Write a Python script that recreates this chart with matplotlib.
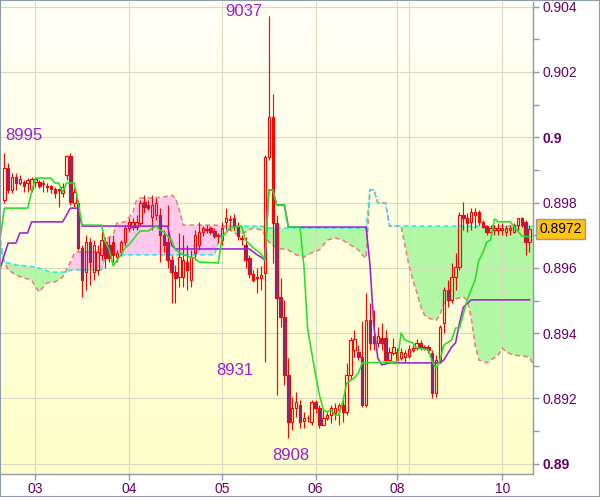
import numpy as np
import matplotlib
matplotlib.use("Agg")
import matplotlib.pyplot as plt
from matplotlib.patches import Rectangle
from matplotlib.colors import LinearSegmentedColormap
import matplotlib.transforms as mtransforms

plt.rcParams['font.family'] = ['Liberation Sans', 'DejaVu Sans']

# ---------------- data (prices in pips, i.e. price * 10000) ----------------
open_p = [8980.8, 8990.6, 8983.9, 8987.8, 8986.0, 8986.3, 8986.0, 8984.2, 8986.3, 8986.3,
          8985.7, 8985.1, 8985.1, 8984.2, 8983.9, 8982.9, 8988.5, 8994.3, 8979.9, 8979.9,
          8966.1, 8958.7, 8967.9, 8958.7, 8959.4, 8964.0, 8967.9, 8967.0, 8967.9, 8963.3,
          8964.9, 8967.9, 8972.2, 8972.5, 8972.5, 8973.8, 8980.2, 8979.3, 8975.6, 8976.2,
          8976.2, 8970.1, 8967.9, 8962.4, 8958.7, 8957.2, 8957.2, 8961.8, 8956.3, 8964.6,
          8967.0, 8971.0, 8971.9, 8972.2, 8971.3, 8969.8, 8968.5, 8974.1, 8975.0, 8975.3,
          8972.8, 8969.2, 8967.0, 8963.0, 8958.1, 8957.2, 8956.9, 8958.4, 8994.0, 9006.2,
          8973.8, 8951.1, 8945.0, 8927.2, 8912.8, 8917.1, 8918.0, 8913.1, 8913.9, 8912.8,
          8918.9, 8917.1, 8911.9, 8914.0, 8914.9, 8915.6, 8916.5, 8918.0, 8915.9, 8927.2,
          8934.9, 8934.2, 8932.7, 8918.0, 8944.0, 8939.1, 8937.0, 8938.5, 8938.5, 8931.8,
          8933.9, 8934.2, 8932.4, 8932.7, 8933.0, 8934.9, 8935.5, 8937.0, 8935.8, 8935.8,
          8933.9, 8921.7, 8931.8, 8943.1, 8953.2, 8950.2, 8957.2, 8960.3, 8976.2, 8975.3,
          8974.1, 8976.2, 8977.1, 8974.1, 8972.8, 8971.0, 8971.6, 8971.6, 8971.6, 8971.0,
          8971.6, 8971.0, 8973.1, 8975.3, 8974.1, 8967.9]
high_p = [8995.2, 8992.1, 8989.1, 8989.1, 8988.5, 8986.9, 8987.5, 8987.8, 8987.8, 8986.9,
          8986.9, 8986.0, 8985.4, 8984.8, 8984.5, 8986.0, 8994.6, 8995.2, 8984.5, 8980.8,
          8967.0, 8970.1, 8969.2, 8968.5, 8967.0, 8971.0, 8969.5, 8969.5, 8970.1, 8965.5,
          8968.5, 8973.1, 8975.3, 8975.3, 8976.2, 8980.8, 8982.3, 8980.8, 8982.3, 8981.4,
          8978.3, 8971.6, 8979.3, 8964.0, 8960.9, 8970.7, 8970.1, 8967.0, 8965.5, 8971.6,
          8974.1, 8972.8, 8973.1, 8972.8, 8972.2, 8970.7, 8974.1, 8978.3, 8976.2, 8976.5,
          8974.1, 8970.1, 8969.5, 8964.0, 8959.4, 8960.0, 8960.6, 8994.6, 9037.0, 9013.3,
          8976.2, 8956.9, 8950.2, 8932.4, 8920.5, 8922.0, 8919.5, 8915.9, 8914.9, 8919.5,
          8919.5, 8918.0, 8916.5, 8915.9, 8918.0, 8918.6, 8918.6, 8920.5, 8930.9, 8938.8,
          8941.0, 8936.4, 8943.7, 8952.3, 8949.3, 8947.1, 8941.9, 8943.1, 8941.0, 8935.8,
          8938.5, 8935.5, 8935.5, 8934.9, 8936.4, 8936.4, 8938.2, 8937.9, 8936.4, 8936.4,
          8934.9, 8933.3, 8942.5, 8954.2, 8956.3, 8961.5, 8964.6, 8977.1, 8980.2, 8976.8,
          8978.3, 8978.3, 8977.7, 8974.7, 8973.1, 8973.1, 8973.1, 8973.8, 8973.8, 8973.1,
          8973.1, 8973.8, 8975.3, 8975.6, 8974.7, 8973.1]
low_p = [8979.9, 8982.9, 8982.9, 8983.9, 8985.4, 8983.2, 8983.2, 8983.2, 8984.8, 8984.5,
         8983.2, 8983.2, 8982.9, 8981.4, 8978.7, 8981.7, 8986.9, 8979.3, 8978.7, 8965.5,
         8951.1, 8953.2, 8954.8, 8956.3, 8957.8, 8962.4, 8960.0, 8961.8, 8961.8, 8961.8,
         8963.6, 8966.7, 8971.0, 8971.6, 8971.6, 8972.8, 8976.8, 8977.7, 8971.6, 8974.7,
         8961.8, 8964.9, 8960.0, 8949.3, 8949.3, 8954.2, 8954.2, 8953.2, 8954.2, 8962.4,
         8965.5, 8969.8, 8970.7, 8970.4, 8969.2, 8967.6, 8967.0, 8971.6, 8971.6, 8971.6,
         8968.5, 8967.0, 8960.0, 8956.9, 8955.7, 8952.3, 8953.2, 8931.2, 8993.0, 8961.5,
         8921.1, 8941.9, 8924.1, 8907.9, 8910.4, 8914.3, 8911.0, 8911.0, 8912.8, 8911.9,
         8915.6, 8911.0, 8911.9, 8913.4, 8912.5, 8913.4, 8911.9, 8912.8, 8914.9, 8925.7,
         8932.7, 8931.8, 8917.4, 8917.4, 8934.9, 8934.9, 8935.8, 8934.9, 8931.2, 8931.8,
         8933.3, 8931.2, 8931.8, 8931.2, 8932.4, 8934.2, 8934.9, 8934.9, 8934.9, 8933.9,
         8920.2, 8920.5, 8930.9, 8940.1, 8948.0, 8949.3, 8953.2, 8959.4, 8971.6, 8971.0,
         8971.6, 8972.2, 8973.1, 8972.2, 8970.1, 8970.1, 8970.1, 8970.1, 8970.1, 8969.8,
         8970.1, 8970.7, 8971.0, 8972.5, 8964.0, 8964.9]
close_p = [8990.6, 8983.9, 8987.8, 8986.0, 8987.2, 8985.1, 8986.9, 8987.2, 8987.2, 8985.1,
           8986.0, 8984.8, 8984.2, 8982.9, 8984.2, 8984.8, 8994.3, 8980.2, 8983.2, 8966.1,
           8956.3, 8967.9, 8961.8, 8967.0, 8964.9, 8968.5, 8963.0, 8963.0, 8964.0, 8964.6,
           8967.9, 8972.2, 8974.1, 8974.1, 8974.1, 8979.9, 8978.7, 8978.3, 8979.3, 8979.9,
           8970.1, 8967.0, 8962.4, 8958.7, 8956.9, 8963.3, 8962.4, 8959.4, 8963.3, 8970.1,
           8971.0, 8972.2, 8971.6, 8971.0, 8969.8, 8970.1, 8972.2, 8975.3, 8974.7, 8972.8,
           8969.8, 8968.9, 8962.4, 8958.1, 8956.3, 8956.9, 8957.8, 8994.0, 9006.2, 8973.8,
           8950.8, 8945.0, 8927.2, 8912.8, 8917.1, 8918.9, 8912.8, 8914.0, 8914.0, 8918.9,
           8917.1, 8911.9, 8914.0, 8914.9, 8917.1, 8917.1, 8918.0, 8915.9, 8927.2, 8937.9,
           8938.2, 8932.7, 8918.0, 8944.0, 8937.0, 8937.0, 8939.1, 8937.0, 8931.8, 8934.2,
           8935.8, 8931.8, 8934.2, 8933.9, 8935.2, 8935.5, 8937.0, 8935.8, 8935.5, 8934.9,
           8921.7, 8931.8, 8941.9, 8953.2, 8950.2, 8957.2, 8960.3, 8976.2, 8975.3, 8973.8,
           8977.1, 8977.1, 8974.1, 8972.5, 8971.0, 8972.2, 8972.2, 8972.2, 8972.2, 8972.2,
           8972.2, 8973.1, 8975.3, 8973.1, 8967.9, 8972.0]

# Tenkan (green)
tenkan_idx = [-1, 0, 6, 7, 8, 12, 13, 14, 15, 16, 18, 19, 20, 25, 26, 27, 28, 29, 30, 31,
              32, 33, 34, 35, 37, 39, 40, 41, 43, 44, 46, 49, 50, 55, 56, 58, 61, 62, 64, 66,
              67, 68, 69, 70, 72, 73, 76, 77, 78, 79, 80, 81, 82, 83, 84, 85, 86, 87, 88, 90,
              91, 92, 101, 102, 103, 105, 106, 109, 110, 111, 112, 113, 115, 116, 117, 119,
              121, 122, 123, 124, 125, 126, 127, 130, 131, 133, 135]
tenkan_val = [8969.5, 8978.3, 8978.3, 8983.2, 8987.5, 8987.5, 8986.0, 8986.0, 8983.2, 8986.0,
              8986.0, 8979.9, 8973.1, 8973.1, 8967.9, 8965.5, 8960.6, 8962.4, 8964.0, 8966.1,
              8967.0, 8968.5, 8970.1, 8971.3, 8971.3, 8972.8, 8971.6, 8971.0, 8968.5, 8965.5,
              8964.0, 8963.0, 8961.8, 8961.5, 8969.5, 8972.2, 8972.8, 8968.5, 8966.1, 8964.3,
              8962.4, 8983.9, 8983.9, 8979.3, 8979.3, 8972.5, 8972.5, 8960.9, 8941.0, 8934.2,
              8927.2, 8921.1, 8916.5, 8915.9, 8916.5, 8914.9, 8914.9, 8918.9, 8924.7, 8926.3,
              8927.8, 8930.9, 8931.2, 8940.1, 8937.9, 8937.0, 8935.5, 8934.9, 8931.2, 8929.3,
              8931.8, 8936.4, 8937.9, 8941.6, 8941.6, 8950.2, 8956.3, 8962.4, 8964.6, 8967.9,
              8968.5, 8975.0, 8974.1, 8974.1, 8972.8, 8969.8, 8969.5]

# Kijun (purple)
kijun_idx = [-1, 0, 1, 3, 4, 6, 7, 15, 17, 19, 20, 42, 43, 44, 63, 65, 66, 67, 68, 69,
             70, 72, 73, 93, 94, 95, 96, 97, 99, 112, 113, 115, 116, 117, 118, 120, 135]
kijun_val = [8960.0, 8964.0, 8967.6, 8967.6, 8970.7, 8970.7, 8974.1, 8974.1, 8978.3, 8978.3,
             8972.8, 8972.8, 8967.0, 8965.8, 8965.8, 8964.0, 8963.3, 8962.4, 8983.9, 8983.9,
             8979.3, 8979.3, 8972.5, 8972.5, 8960.9, 8942.2, 8932.4, 8930.3, 8930.9, 8930.9,
             8931.8, 8935.8, 8937.0, 8943.1, 8948.0, 8950.2, 8950.2]

# Senkou span B (cyan, dashed)
span_b_idx = [-1, 0, 3, 8, 12, 16, 17, 25, 26, 54, 55, 56, 57, 66, 68, 93, 94, 95, 96, 98,
              99, 136]
span_b_val = [8968.5, 8961.8, 8960.9, 8960.3, 8958.7, 8958.7, 8959.4, 8959.4, 8964.0, 8964.0,
              8967.6, 8971.6, 8972.8, 8972.8, 8972.2, 8972.2, 8983.9, 8983.9, 8979.9, 8979.9,
              8972.8, 8972.8]

# Senkou span A (salmon, dashed)
span_a_idx = [-1, 0, 1, 3, 5, 7, 8, 9, 10, 11, 13, 14, 15, 16, 17, 18, 19, 25, 26, 27,
              28, 29, 31, 33, 34, 35, 38, 41, 43, 44, 45, 46, 54, 57, 58, 60, 62, 64, 66, 67,
              68, 70, 73, 75, 77, 79, 81, 83, 85, 87, 89, 91, 92, 93, 94, 95, 96, 98, 99, 102,
              103, 104, 105, 106, 107, 108, 109, 111, 112, 113, 115, 118, 119, 120, 121, 122,
              124, 127, 128, 129, 131, 135, 136]
span_a_val = [8965.5, 8961.8, 8959.4, 8957.8, 8956.9, 8956.3, 8954.2, 8952.6, 8954.2, 8955.4,
              8955.7, 8956.3, 8957.2, 8959.4, 8961.8, 8964.6, 8964.9, 8964.9, 8968.5, 8969.5,
              8970.1, 8973.8, 8974.1, 8976.8, 8980.8, 8981.4, 8981.4, 8981.7, 8982.3, 8981.4,
              8977.7, 8973.1, 8973.1, 8972.8, 8971.6, 8970.1, 8971.0, 8972.2, 8971.6, 8970.1,
              8967.9, 8966.1, 8965.5, 8964.0, 8963.3, 8964.6, 8965.5, 8968.5, 8969.2, 8968.5,
              8967.0, 8965.5, 8964.0, 8963.0, 8983.9, 8983.9, 8979.9, 8979.9, 8972.8, 8972.8,
              8966.7, 8960.9, 8956.3, 8952.6, 8948.3, 8945.6, 8944.6, 8944.0, 8945.6, 8949.3,
              8950.2, 8951.1, 8950.2, 8944.9, 8936.4, 8931.8, 8930.9, 8933.3, 8935.5, 8934.2,
              8933.3, 8932.7, 8930.3]

day_ticks = [8, 32, 56, 80, 101, 128]
day_labels = ['03', '04', '05', '06', '08', '10']
day_grid = [8, 32, 56, 80, 101, 104, 128]

# extremes annotated on the chart: (candle index, 'high'/'low')
marks = [(0, 'high'), (68, 'high'), (67, 'low'), (73, 'low')]

PIP = 1e4
o = np.array(open_p) / PIP
h = np.array(high_p) / PIP
l = np.array(low_p) / PIP
c = np.array(close_p) / PIP
n = len(o)

# ---------------- figure ----------------
fig = plt.figure(figsize=(6.0, 4.97), dpi=100)
fig.patch.set_facecolor('white')
ax = fig.add_axes([1 / 600, 23 / 497, 532 / 600, 472.5 / 497])

# background gradient
grad = np.linspace(0, 1, 256).reshape(-1, 1)
bg = LinearSegmentedColormap.from_list('bg', ['#ffffc9', '#fffff7'])
ax.imshow(grad, extent=[0, 1, 0, 1], transform=ax.transAxes, origin='lower',
          aspect='auto', cmap=bg, zorder=0, interpolation='bilinear')

xlim = (-0.85, 135.9)
ylim = (0.889687, 0.904159)

# cloud
gx = np.linspace(-1, 136, 3000)
ga = np.interp(gx, span_a_idx, span_a_val) / PIP
gb = np.interp(gx, span_b_idx, span_b_val) / PIP
ax.fill_between(gx, ga, gb, where=gb >= ga, interpolate=True, color='#b2f7a4', lw=0, zorder=1)
ax.fill_between(gx, ga, gb, where=ga > gb, interpolate=True, color='#ffc9eb', lw=0, zorder=1)

# grid
major = np.arange(0.890, 0.90401, 0.002)
grid_col = '#d9d9bf'
for v in major:
    ax.axhline(v, color=grid_col, lw=0.8, zorder=1.5)
for d in day_grid:
    ax.axvline(d, color=grid_col, lw=0.8, zorder=1.5)

# senkou spans
ax.plot(span_a_idx, np.array(span_a_val) / PIP, color='#f07c7c', lw=1.15,
        ls=(0, (3, 2)), zorder=2)
ax.plot(span_b_idx, np.array(span_b_val) / PIP, color='#35e2f2', lw=1.15,
        ls=(0, (3, 2)), zorder=2.1)

# candles
w = 0.62
red = '#ff0000'
for i in range(n):
    top = max(o[i], c[i])
    bot = min(o[i], c[i])
    ax.vlines(i, top, h[i], color=red, lw=0.85, zorder=3)
    ax.vlines(i, l[i], bot, color=red, lw=0.85, zorder=3)
    face = 'none' if c[i] >= o[i] else '#62389e'
    ax.add_patch(Rectangle((i - w / 2, bot), w, max(top - bot, 0.000004),
                           facecolor=face, edgecolor=red, lw=0.85, zorder=3.2))

# tenkan / kijun
ax.plot(kijun_idx, np.array(kijun_val) / PIP, color='#9a22d2', lw=1.15, zorder=4)
ax.plot(tenkan_idx, np.array(tenkan_val) / PIP, color='#25e025', lw=1.15, zorder=4.1)

# annotations of extremes
ann_col = '#9a1ed6'
for idx_m, kind in marks:
    if kind == 'high':
        val = high_p[idx_m]
        if idx_m == int(np.argmax(high_p)):
            ax.text(idx_m - 1.7, (val + 1.5) / PIP, f"{val:.0f}", color=ann_col,
                    fontsize=12, ha='right', va='center', zorder=6)
        else:
            ax.text(idx_m + 0.25, (val + 5.5) / PIP, f"{val:.0f}", color=ann_col,
                    fontsize=12, ha='left', va='center', zorder=6)
    else:
        val = low_p[idx_m]
        if idx_m == int(np.argmin(low_p)):
            ax.text(idx_m + 0.6, (val - 5.5) / PIP, f"{val:.0f}", color=ann_col,
                    fontsize=12, ha='center', va='center', zorder=6)
        else:
            ax.text(idx_m - 3.0, (val - 2.6) / PIP, f"{val:.0f}", color=ann_col,
                    fontsize=12, ha='right', va='center', zorder=6)

ax.set_xlim(*xlim)
ax.set_ylim(*ylim)

# axes styling
axis_col = '#8d9ca8'
for s in ['top', 'left']:
    ax.spines[s].set_visible(False)
for s in ['right', 'bottom']:
    ax.spines[s].set_color(axis_col)
    ax.spines[s].set_linewidth(1.0)
    ax.spines[s].set_zorder(7)

ax.yaxis.tick_right()
ax.set_yticks(major)
ax.set_yticks(np.arange(0.891, 0.9040, 0.002), minor=True)
ylabels = [('%.3f' % v).rstrip('0') for v in major]
ax.set_yticklabels(ylabels)
ax.tick_params(axis='y', which='both', direction='out', length=4, width=1,
               color=axis_col, labelcolor='#660066', labelsize=10, pad=3)
for t in ax.get_yticklabels():
    if len(t.get_text()) <= 4:
        t.set_fontweight('bold')

ax.set_xticks(day_ticks)
ax.set_xticklabels(day_labels)
ax.tick_params(axis='x', direction='out', length=4, width=1, color=axis_col,
               labelcolor='#660066', labelsize=10, pad=2)

# current price box
trans = mtransforms.blended_transform_factory(ax.transAxes, ax.transData)
last = close_p[-1]
ax.text(1 + 6 / 532, last / PIP, f"{last / PIP:.4f}", transform=trans,
        ha='left', va='center', fontsize=10, color='black', zorder=10, clip_on=False,
        bbox=dict(boxstyle='square,pad=0.22', fc='#ffc40c', ec='#9a9a9a', lw=1))

# outer border
fig.add_artist(Rectangle((0, 0), 1, 1, transform=fig.transFigure, fill=False,
                         edgecolor=axis_col, lw=1.5))

fig.savefig('out.png', dpi=100)
